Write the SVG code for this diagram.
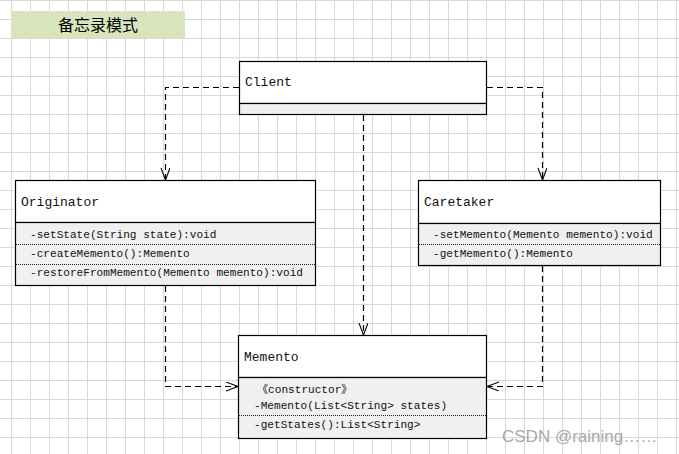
<svg xmlns="http://www.w3.org/2000/svg" width="679" height="454" viewBox="0 0 679 454">
<style>
.box{fill:#fff;stroke:#000;stroke-width:1.2}
.comp{fill:#f0f0f0;stroke:#000;stroke-width:1.2}
.sep{stroke:#222;stroke-width:1;stroke-dasharray:1 1}
.name{font-family:"Liberation Mono","DejaVu Sans Mono",monospace;font-size:13px;fill:#111}
.m{font-family:"Liberation Mono","DejaVu Sans Mono","Noto Sans CJK SC",monospace;font-size:11.1px;fill:#111}
.conn{fill:none;stroke:#000;stroke-width:1.2;stroke-dasharray:6 4}
</style>
<defs>
<pattern id="grid" patternUnits="userSpaceOnUse" x="11" y="0" width="19" height="19">
<rect x="0" y="0" width="1" height="19" fill="#d9d9d9"/>
<rect x="0" y="0" width="19" height="1" fill="#d9d9d9"/>
</pattern>
<marker id="open" markerUnits="userSpaceOnUse" markerWidth="14" markerHeight="12" refX="12" refY="4.5" orient="auto">
<path d="M0,0 L12,4.5 L0,9" fill="none" stroke="#000" stroke-width="1.1"/>
</marker>
</defs>
<rect x="0" y="0" width="679" height="454" fill="#fff"/>
<rect x="0" y="0" width="679" height="454" fill="url(#grid)"/>

<g id="title">
<rect x="11" y="11" width="174" height="27" fill="#d8e4bc"/>
<text x="98" y="30.5" text-anchor="middle" font-family="'Noto Sans CJK SC','Noto Sans CJK JP',sans-serif" font-size="16" fill="#000">备忘录模式</text>
</g>

<g id="connectors">
<path class="conn" d="M239,87.5 H165.5 V180" marker-end="url(#open)"/>
<path class="conn" d="M487,87.5 H542.5 V180" marker-end="url(#open)"/>
<path class="conn" d="M363.5,115 V335" marker-end="url(#open)"/>
<path class="conn" d="M165.5,286 V386.5 H238" marker-end="url(#open)"/>
<path class="conn" d="M542.5,266 V386.5 H487" marker-end="url(#open)"/>
</g>

<g id="client">
<rect class="box" x="239.5" y="61.5" width="247" height="42"/>
<rect class="comp" x="239.5" y="103.5" width="247" height="11"/>
<text class="name" x="245" y="85.5">Client</text>
</g>

<g id="originator">
<rect class="box" x="15.5" y="180.5" width="300" height="42"/>
<rect class="comp" x="15.5" y="222.5" width="300" height="63"/>
<text class="name" x="21" y="205.5">Originator</text>
<text class="m" x="30" y="237.5">-setState(String state):void</text>
<line class="sep" x1="16" y1="244.5" x2="315" y2="244.5"/>
<text class="m" x="30" y="257">-createMemento():Memento</text>
<line class="sep" x1="16" y1="264.5" x2="315" y2="264.5"/>
<text class="m" x="30" y="276">-restoreFromMemento(Memento memento):void</text>
</g>

<g id="caretaker">
<rect class="box" x="418.5" y="180.5" width="242" height="43"/>
<rect class="comp" x="418.5" y="223.5" width="242" height="42"/>
<text class="name" x="424" y="205.5">Caretaker</text>
<text class="m" x="433" y="237.5">-setMemento(Memento memento):void</text>
<line class="sep" x1="419" y1="244.5" x2="660" y2="244.5"/>
<text class="m" x="433" y="257">-getMemento():Memento</text>
</g>

<g id="memento">
<rect class="box" x="238.5" y="335.5" width="248" height="42"/>
<rect class="comp" x="238.5" y="377.5" width="248" height="61"/>
<text class="name" x="244" y="361">Memento</text>
<text class="m" x="257" y="393">《constructor》</text>
<text class="m" x="254" y="408.5">-Memento(List&lt;String&gt; states)</text>
<line class="sep" x1="239" y1="415.5" x2="486" y2="415.5"/>
<text class="m" x="254" y="428">-getStates():List&lt;String&gt;</text>
</g>

<text x="502" y="442" font-family="'Liberation Sans',Arial,sans-serif" font-size="17" fill="#a8a8a8">CSDN @raining……</text>
</svg>
